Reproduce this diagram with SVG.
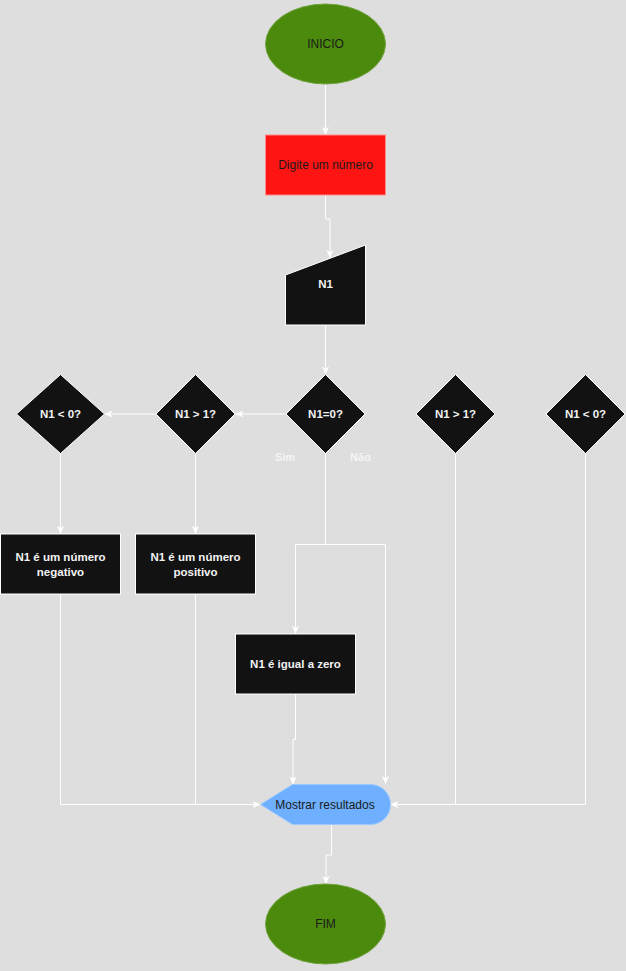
<svg xmlns="http://www.w3.org/2000/svg" width="626" height="971" viewBox="0 0 626 971">
<defs>
<marker id="arr" viewBox="0 0 10 10" refX="10" refY="5" markerWidth="8" markerHeight="8" markerUnits="userSpaceOnUse" orient="auto">
<path d="M0,0.5 L10,5 L0,9.5 L2.5,5 Z" fill="#ffffff"/>
</marker>
</defs>
<style>
.bg{fill:#dedede}
.dark{fill:#121212;stroke:#ffffff;stroke-width:1}
.green{fill:#4c8a0d;stroke:#6fa33c;stroke-width:1}
.lt{font-family:"Liberation Sans",Arial,sans-serif;font-size:12px;fill:#1a1a1a;text-anchor:middle;dominant-baseline:central}
.wt{font-family:"Liberation Sans",Arial,sans-serif;font-size:11.5px;font-weight:bold;fill:#f2f2f2;text-anchor:middle;dominant-baseline:central}
.lbl{font-family:"Liberation Sans",Arial,sans-serif;font-size:11px;font-weight:bold;fill:#f5f5f5;text-anchor:middle;dominant-baseline:central}
.c{fill:none;stroke:#ffffff;stroke-width:1}
</style>
<rect class="bg" x="0" y="0" width="626" height="971"/>

<g id="connectors">
<path class="c" d="M325.5,84 L325.5,135" marker-end="url(#arr)"/>
<path class="c" d="M325.5,195 L325.5,219 L330,219 L330,258" marker-end="url(#arr)"/>
<path class="c" d="M325.5,325 L325.5,374.5" marker-end="url(#arr)"/>
<path class="c" d="M285.5,414 L235.5,414" marker-end="url(#arr)"/>
<path class="c" d="M155.5,414 L104.5,414" marker-end="url(#arr)"/>
<path class="c" d="M60.5,453.5 L60.5,534" marker-end="url(#arr)"/>
<path class="c" d="M195.5,453.5 L195.5,534" marker-end="url(#arr)"/>
<path class="c" d="M325.5,453.5 L325.5,544.5 L295.5,544.5 L295.5,634" marker-end="url(#arr)"/>
<path class="c" d="M325.5,544.5 L385.5,544.5 L385.5,784" marker-end="url(#arr)"/>
<path class="c" d="M295.5,694 L295.5,739.5 L293,739.5 L293,784.5" marker-end="url(#arr)"/>
<path class="c" d="M60.5,594 L60.5,804.5 L260.5,804.5" marker-end="url(#arr)"/>
<path class="c" d="M195.5,594 L195.5,804.5"/>
<path class="c" d="M585.5,453.5 L585.5,804.5 L390.5,804.5" marker-end="url(#arr)"/>
<path class="c" d="M455.5,453.5 L455.5,804.5"/>
<path class="c" d="M331.5,824 L331.5,855 L326,855 L326,884" marker-end="url(#arr)"/>
</g>

<g id="inicio">
<ellipse class="green" cx="325.5" cy="44" rx="60" ry="40"/>
<text class="lt" x="325.5" y="44">INICIO</text>
</g>

<g id="digite">
<rect x="265.5" y="135" width="120" height="60" fill="#ff1414" stroke="#ff8a8a" stroke-width="1"/>
<text class="lt" x="325.5" y="165">Digite um número</text>
</g>

<g id="n1input">
<path class="dark" d="M285.5,275 L365.5,245 L365.5,325 L285.5,325 Z"/>
<text class="wt" x="325.5" y="283.5">N1</text>
</g>

<g id="dec-n1-zero">
<path class="dark" d="M325.5,374.5 L365,414 L325.5,453.5 L286,414 Z"/>
<text class="wt" x="325.5" y="413.5">N1=0?</text>
</g>

<g id="dec-n1-gt1-left">
<path class="dark" d="M195.5,374.5 L235,414 L195.5,453.5 L156,414 Z"/>
<text class="wt" x="195.5" y="413.5">N1 &gt; 1?</text>
</g>

<g id="dec-n1-lt0-left">
<path class="dark" d="M60.5,374.5 L104.5,414 L60.5,453.5 L16.5,414 Z"/>
<text class="wt" x="60.5" y="413.5">N1 &lt; 0?</text>
</g>

<g id="dec-n1-gt1-right">
<path class="dark" d="M455.5,374.5 L495,414 L455.5,453.5 L416,414 Z"/>
<text class="wt" x="455.5" y="413.5">N1 &gt; 1?</text>
</g>

<g id="dec-n1-lt0-right">
<path class="dark" d="M585.5,374.5 L625,414 L585.5,453.5 L546,414 Z"/>
<text class="wt" x="585.5" y="413.5">N1 &lt; 0?</text>
</g>

<g id="labels">
<text class="lbl" x="285" y="457">Sim</text>
<text class="lbl" x="360.5" y="457">Não</text>
</g>

<g id="negativo">
<rect class="dark" x="0.5" y="534" width="120" height="60"/>
<text class="wt" x="60.5" y="557">N1 é um número</text>
<text class="wt" x="60.5" y="572">negativo</text>
</g>

<g id="positivo">
<rect class="dark" x="135.5" y="534" width="120" height="60"/>
<text class="wt" x="195.5" y="557">N1 é um número</text>
<text class="wt" x="195.5" y="572">positivo</text>
</g>

<g id="zero">
<rect class="dark" x="235.5" y="634" width="120" height="60"/>
<text class="wt" x="295.5" y="664">N1 é igual a zero</text>
</g>

<g id="mostrar">
<path d="M260.5,804.5 L292.5,784.5 L370.5,784.5 A20,20 0 0 1 370.5,824.5 L292.5,824.5 Z" fill="#6eb0ff" stroke="#9ccaff" stroke-width="1"/>
<text class="lt" x="325" y="804.5">Mostrar resultados</text>
</g>

<g id="fim">
<ellipse class="green" cx="325.5" cy="924" rx="60" ry="40"/>
<text class="lt" x="325.5" y="924">FIM</text>
</g>
</svg>
